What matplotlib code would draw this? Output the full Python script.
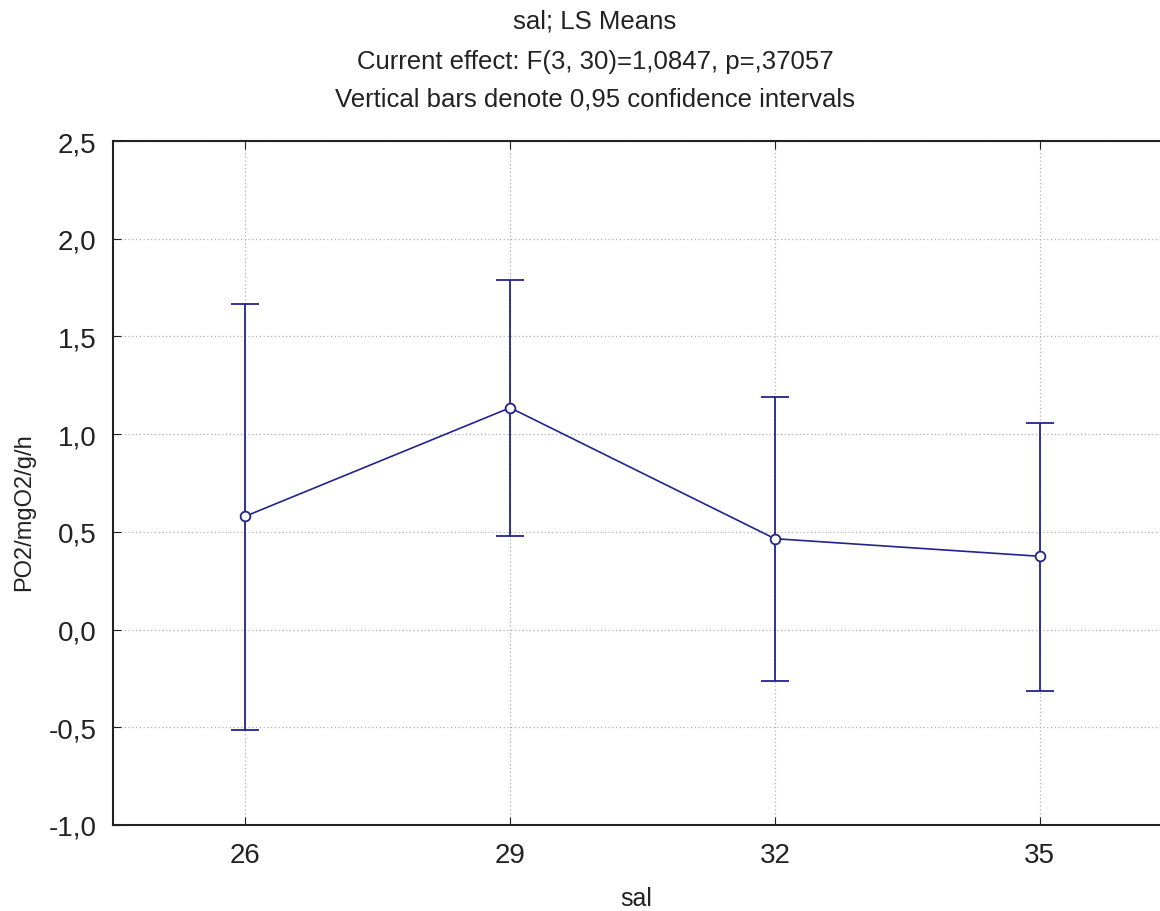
import matplotlib
matplotlib.use("Agg")
import matplotlib.pyplot as plt
from matplotlib.ticker import FuncFormatter

# LS means and 0.95 confidence limits
sal = [26, 29, 32, 35]
means = [0.58, 1.135, 0.465, 0.375]
upper = [1.665, 1.79, 1.19, 1.057]
lower = [-0.512, 0.478, -0.262, -0.315]
yticks = [-1.0, -0.5, 0.0, 0.5, 1.0, 1.5, 2.0, 2.5]

plt.rcParams['font.family'] = ['Liberation Sans', 'DejaVu Sans']
navy = '#23238f'

fig = plt.figure(figsize=(11.6, 9.12), dpi=100)
ax = fig.add_axes([113 / 1160, 1 - 826 / 912, (1172 - 113) / 1160, (826 - 142) / 912])

err = [[m - lo for m, lo in zip(means, lower)], [up - m for m, up in zip(means, upper)]]
ax.errorbar(sal, means, yerr=err, color=navy, lw=1.2, elinewidth=1.3, capsize=10,
            capthick=1.3, marker='o', ms=7, mfc='white', mec=navy, mew=1.3, zorder=3)

ax.set_xlim(24.5, 36.5)
ax.set_ylim(-1.0, 2.5)
ax.set_xticks(sal)
ax.set_yticks(yticks)
ax.yaxis.set_major_formatter(FuncFormatter(lambda v, p: f"{v:.1f}".replace('.', ',')))
ax.tick_params(direction='in', length=6, labelsize=20, color='#222222', pad=12,
               top=True, right=True, labelcolor='#222222')
ax.grid(True, ls=(0, (1, 2)), color='#b0b0b0', lw=0.9)
for s in ax.spines.values():
    s.set_linewidth(1.5)
    s.set_color('#222222')

# axis labels placed in figure pixels
fig.text(636 / 1160, 1 - 899 / 912, 'sal', ha='center', va='center', fontsize=18,
         color='#222222')
fig.text(24 / 1160, 1 - 512 / 912, 'PO2/mgO2/g/h', ha='center', va='center',
         rotation=90, fontsize=17, color='#222222')

fig.text(595 / 1160, 1 - 22 / 912, 'sal; LS Means', ha='center', va='center',
         fontsize=18.5, color='#222222')
fig.text(595 / 1160, 1 - 62 / 912, 'Current effect: F(3, 30)=1,0847, p=,37057',
         ha='center', va='center', fontsize=18.5, color='#222222')
fig.text(595 / 1160, 1 - 100 / 912, 'Vertical bars denote 0,95 confidence intervals',
         ha='center', va='center', fontsize=18.5, color='#222222')

fig.savefig('out.png', dpi=100)
